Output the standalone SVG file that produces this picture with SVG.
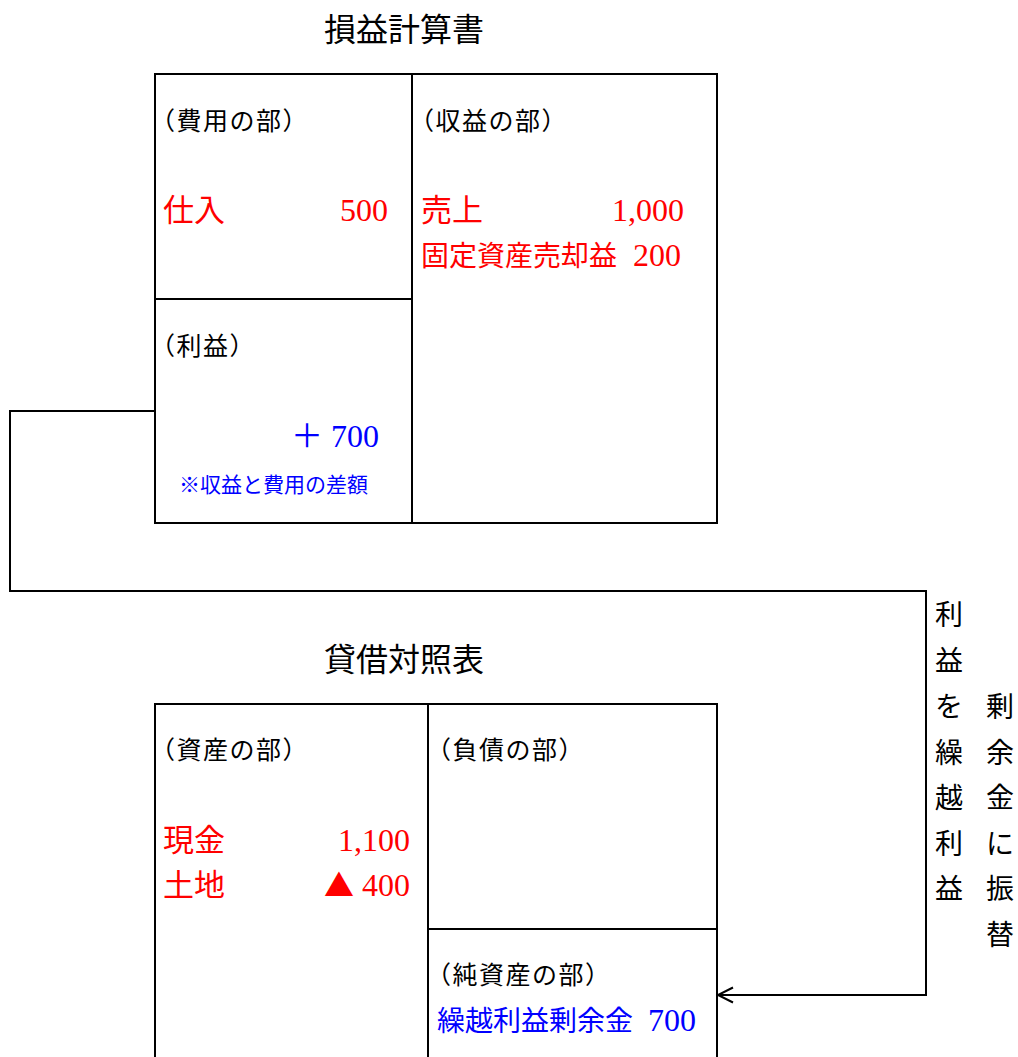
<svg xmlns="http://www.w3.org/2000/svg" width="1018" height="1057" viewBox="0 0 1018 1057">
<style>
text{font-family:"Liberation Serif","Noto Sans CJK JP",serif;fill:#000}
.t{font-size:32px}
.s{font-size:25px;letter-spacing:1.5px}
.r{fill:#ff0000}
.b{fill:#0000ff}
.n{font-size:32px}
.c{font-size:31px}
.box{fill:none;stroke:#000;stroke-width:2}
.conn{fill:none;stroke:#000;stroke-width:2}
.v{font-size:28px;text-anchor:middle}
</style>
<defs>
<marker id="arr" markerUnits="userSpaceOnUse" markerWidth="20" markerHeight="20" refX="16" refY="10" orient="auto">
<polyline points="1,2.5 16,10 1,17.5" fill="none" stroke="#000" stroke-width="2"/>
</marker>
</defs>
<rect width="1018" height="1057" fill="#fff"/>

<g id="pl-title"><text class="t" x="404" y="41" text-anchor="middle">損益計算書</text></g>

<g id="pl-box">
<rect class="box" x="155" y="74" width="562" height="449"/>
<line class="box" x1="412" y1="74" x2="412" y2="523"/>
<line class="box" x1="155" y1="299" x2="412" y2="299"/>
</g>

<g id="pl-expense">
<text class="s" x="150" y="130">（費用の部）</text>
<text class="r c" x="163" y="221">仕入</text>
<text class="r n" x="388" y="221" text-anchor="end">500</text>
</g>

<g id="pl-revenue">
<text class="s" x="409" y="130">（収益の部）</text>
<text class="r c" x="421" y="221">売上</text>
<text class="r n" x="684" y="221" text-anchor="end">1,000</text>
<text class="r" x="421" y="266" style="font-size:28px">固定資産売却益</text>
<text class="r n" x="681" y="266" text-anchor="end">200</text>
</g>

<g id="pl-profit">
<text class="s" x="150" y="355">（利益）</text>
<text class="b n" x="379" y="447" text-anchor="end">＋ 700</text>
<text class="b" x="179" y="492" style="font-size:21px">※収益と費用の差額</text>
</g>

<g id="bs-title"><text class="t" x="404" y="671" text-anchor="middle">貸借対照表</text></g>

<g id="bs-box">
<polyline class="box" points="155,1060 155,704 717,704 717,1060"/>
<line class="box" x1="428" y1="704" x2="428" y2="1060"/>
<line class="box" x1="428" y1="929" x2="717" y2="929"/>
</g>

<g id="bs-assets">
<text class="s" x="150" y="759">（資産の部）</text>
<text class="r c" x="163" y="851">現金</text>
<text class="r n" x="410" y="851" text-anchor="end">1,100</text>
<text class="r c" x="163" y="896">土地</text>
<text class="r n" x="410" y="896" text-anchor="end"><tspan style="font-family:'Noto Sans CJK JP',sans-serif;font-size:30px">▲</tspan> 400</text>
</g>

<g id="bs-liabilities">
<text class="s" x="426" y="759">（負債の部）</text>
</g>

<g id="bs-equity">
<text class="s" x="426" y="984">（純資産の部）</text>
<text class="b" x="437" y="1031" style="font-size:28px">繰越利益剰余金</text>
<text class="b n" x="696" y="1031" text-anchor="end">700</text>
</g>

<g id="connectors">
<polyline class="conn" points="155,411 10,411 10,591 926,591 926,995 718,995" marker-end="url(#arr)"/>
</g>

<g id="transfer-label">
<text class="v" x="949" y="625">利</text>
<text class="v" x="949" y="671">益</text>
<text class="v" x="949" y="717">を</text>
<text class="v" x="949" y="763">繰</text>
<text class="v" x="949" y="808">越</text>
<text class="v" x="949" y="854">利</text>
<text class="v" x="949" y="899">益</text>
<text class="v" x="1000" y="717">剰</text>
<text class="v" x="1000" y="763">余</text>
<text class="v" x="1000" y="808">金</text>
<text class="v" x="1000" y="854">に</text>
<text class="v" x="1000" y="899">振</text>
<text class="v" x="1000" y="945">替</text>
</g>
</svg>
